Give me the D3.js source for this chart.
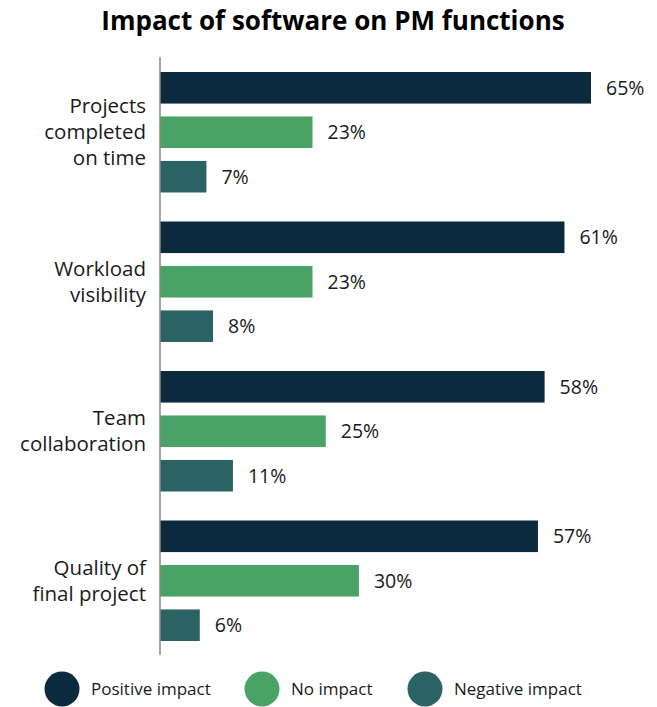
<!DOCTYPE html>
<html>
<head>
<meta charset="utf-8">
<script src="https://cdn.jsdelivr.net/npm/d3@7"></script>
<style>
  body { margin: 0; background: #fff; }
  svg { display: block; font-family: "Open Sans", Roboto, sans-serif; }
</style>
</head>
<body>
<div id="chart"></div>
<script>
const categories = [
  ["Projects", "completed", "on time"],
  ["Workload", "visibility"],
  ["Team", "collaboration"],
  ["Quality of", "final project"]
];
const series = ["Positive impact", "No impact", "Negative impact"];
const positive = [65, 61, 58, 57];
const noImpact = [23, 23, 25, 30];
const negative = [7, 8, 11, 6];
const colors = ["#0b2a3d", "#4aa366", "#2b6364"];

const width = 657, height = 707;

const svg = d3.select("#chart").append("svg")
  .attr("width", width)
  .attr("height", height);

// Title
svg.append("text")
  .attr("x", 333)
  .attr("y", 30)
  .attr("text-anchor", "middle")
  .attr("font-size", "26px")
  .attr("font-weight", "bold")
  .attr("fill", "#000")
  .text("Impact of software on PM functions");

const rows = categories.map((c, i) => ({
  label: c,
  values: [positive[i], noImpact[i], negative[i]]
}));

const y0 = d3.scaleBand()
  .domain(d3.range(categories.length))
  .range([57, 655]);

const y1 = d3.scaleBand()
  .domain(d3.range(series.length))
  .range([15, 135.5])
  .paddingInner(0.29);

const x = d3.scaleLinear()
  .domain([0, 65])
  .range([160, 591]);

const groups = svg.append("g")
  .selectAll("g")
  .data(rows)
  .join("g")
  .attr("transform", (d, i) => `translate(0,${y0(i)})`);

groups.selectAll("rect")
  .data(d => d.values)
  .join("rect")
  .attr("x", x(0))
  .attr("y", (d, i) => y1(i))
  .attr("width", d => x(d) - x(0))
  .attr("height", y1.bandwidth())
  .attr("fill", (d, i) => colors[i]);

groups.selectAll("text.value")
  .data(d => d.values)
  .join("text")
  .attr("class", "value")
  .attr("x", d => x(d) + 15)
  .attr("y", (d, i) => y1(i) + y1.bandwidth() / 2)
  .attr("dy", "0.35em")
  .attr("font-size", "19.5px")
  .attr("fill", "#1a1a1a")
  .text(d => d + "%");

// Category labels, centred on the group
const lineH = 26;
groups.append("text")
  .attr("text-anchor", "end")
  .attr("font-size", "20.5px")
  .attr("fill", "#1a1a1a")
  .each(function (d) {
    const mid = (y1(0) + y1(2) + y1.bandwidth()) / 2;
    const n = d.label.length;
    d3.select(this).selectAll("tspan")
      .data(d.label)
      .join("tspan")
      .attr("x", 146)
      .attr("y", (t, j) => mid + (j - (n - 1) / 2) * lineH)
      .attr("dy", "0.35em")
      .text(t => t);
  });

// Axis line
svg.append("line")
  .attr("x1", x(0)).attr("x2", x(0))
  .attr("y1", 57).attr("y2", 655)
  .attr("stroke", "#888")
  .attr("stroke-width", 1.5);

// Legend
const legendX = [62, 262, 425];
const legend = svg.append("g")
  .selectAll("g")
  .data(series)
  .join("g")
  .attr("transform", (d, i) => `translate(${legendX[i]},689)`);

legend.append("circle")
  .attr("r", 17.5)
  .attr("fill", (d, i) => colors[i]);

legend.append("text")
  .attr("x", 29)
  .attr("dy", "0.35em")
  .attr("font-size", "17px")
  .attr("fill", "#1a1a1a")
  .text(d => d);
</script>
</body>
</html>
